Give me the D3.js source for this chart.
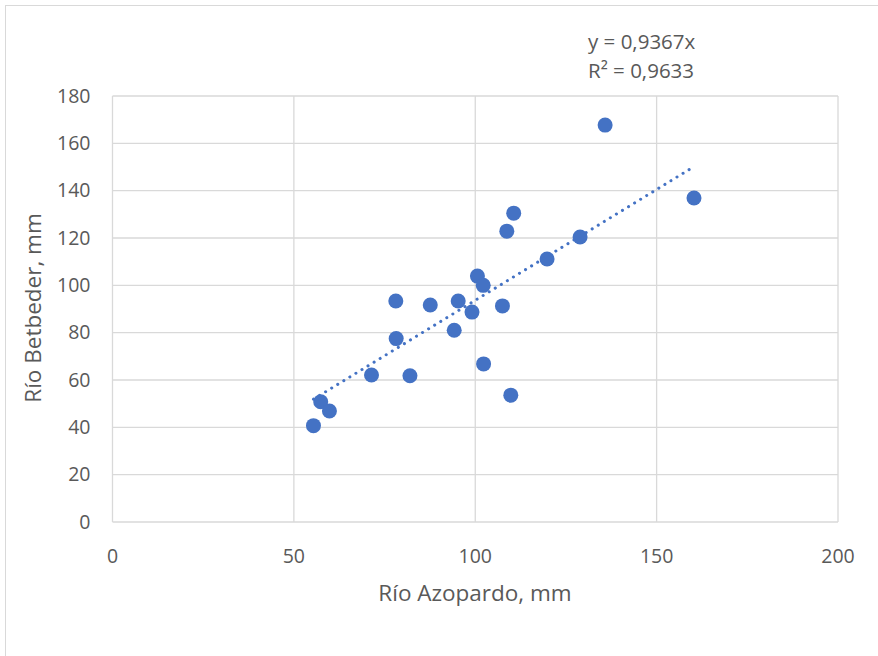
<!DOCTYPE html>
<head>
    <script src="https://d3js.org/d3.v7.min.js"></script>
    <style>
        body { margin: 0; background: #fff; }
        text { font-family: "Open Sans", sans-serif; fill: #595959; }
    </style>
</head>

<body>
    <div id="chart"></div>
</body>

<script>

    // Río Azopardo (x) vs Río Betbeder (y), mm
    const azopardo = [55.4, 57.4, 59.8, 71.4, 82.0, 78.1, 78.2, 87.6, 95.3, 94.2,
                      99.1, 100.6, 102.2, 102.3, 107.5, 108.7, 110.6, 109.8, 119.8, 128.9,
                      135.8, 160.3];
    const betbeder = [40.7, 50.8, 46.9, 62.1, 61.8, 93.4, 77.5, 91.7, 93.4, 81.0,
                      88.7, 103.9, 100.0, 66.8, 91.3, 122.9, 130.5, 53.6, 111.1, 120.4,
                      167.7, 136.9];
    const slope = 0.9367;
    const eqLines = ["y = 0,9367x", "R² = 0,9633"];
    const xTicks = [0, 50, 100, 150, 200];
    const yTicks = [0, 20, 40, 60, 80, 100, 120, 140, 160, 180];

    const width = 878, height = 656;
    const margin = {left: 112.5, right: 40, top: 96, bottom: 134};

    const svg = d3.select("#chart").append("svg")
        .attr("width", width)
        .attr("height", height);

    // chart border
    svg.append("rect")
        .attr("x", 5.5).attr("y", 5.5)
        .attr("width", width + 20).attr("height", height + 20)
        .attr("fill", "none")
        .attr("stroke", "#d9d9d9");

    const x = d3.scaleLinear().domain([0, 200]).range([margin.left, width - margin.right]);
    const y = d3.scaleLinear().domain([0, 180]).range([height - margin.bottom, margin.top]);

    // grid
    svg.append("g").selectAll("line.h").data(yTicks).join("line")
        .attr("x1", x(0)).attr("x2", x(200))
        .attr("y1", d => y(d)).attr("y2", d => y(d))
        .attr("stroke", "#d9d9d9").attr("stroke-width", 1.3);
    svg.append("g").selectAll("line.v").data(xTicks).join("line")
        .attr("x1", d => x(d)).attr("x2", d => x(d))
        .attr("y1", y(0)).attr("y2", y(180))
        .attr("stroke", "#d9d9d9").attr("stroke-width", 1.3);

    // tick labels
    svg.append("g").selectAll("text").data(yTicks).join("text")
        .attr("x", x(0) - 22)
        .attr("y", d => y(d))
        .attr("dy", "0.35em")
        .attr("text-anchor", "end")
        .style("font-size", "19.5px")
        .text(d => d);
    svg.append("g").selectAll("text").data(xTicks).join("text")
        .attr("x", d => x(d))
        .attr("y", y(0) + 34)
        .attr("dy", "0.35em")
        .attr("text-anchor", "middle")
        .style("font-size", "19.5px")
        .text(d => d);

    // axis titles
    svg.append("text")
        .attr("x", 475).attr("y", 593)
        .attr("dy", "0.35em")
        .attr("text-anchor", "middle")
        .style("font-size", "22.5px")
        .text("Río Azopardo, mm");
    svg.append("text")
        .attr("transform", "translate(33,308) rotate(-90)")
        .attr("dy", "0.35em")
        .attr("text-anchor", "middle")
        .style("font-size", "22.5px")
        .text("Río Betbeder, mm");

    // points
    const pts = azopardo.map((d, i) => ({x: d, y: betbeder[i]}));
    svg.append("g").selectAll("circle").data(pts).join("circle")
        .attr("cx", d => x(d.x))
        .attr("cy", d => y(d.y))
        .attr("r", 7.5)
        .attr("fill", "#4472c4");

    // trendline (through origin)
    const xmin = d3.min(azopardo), xmax = d3.max(azopardo);
    svg.append("line")
        .attr("x1", x(xmin)).attr("y1", y(slope * xmin))
        .attr("x2", x(xmax)).attr("y2", y(slope * xmax))
        .attr("stroke", "#4472c4")
        .attr("stroke-width", 3)
        .attr("stroke-linecap", "round")
        .attr("stroke-dasharray", "0.1 7");

    // equation label
    svg.append("g").selectAll("text").data(eqLines).join("text")
        .attr("x", 588)
        .attr("y", (d, i) => 42 + i * 29)
        .attr("dy", "0.35em")
        .style("font-size", "20.5px")
        .text(d => d);

</script>
